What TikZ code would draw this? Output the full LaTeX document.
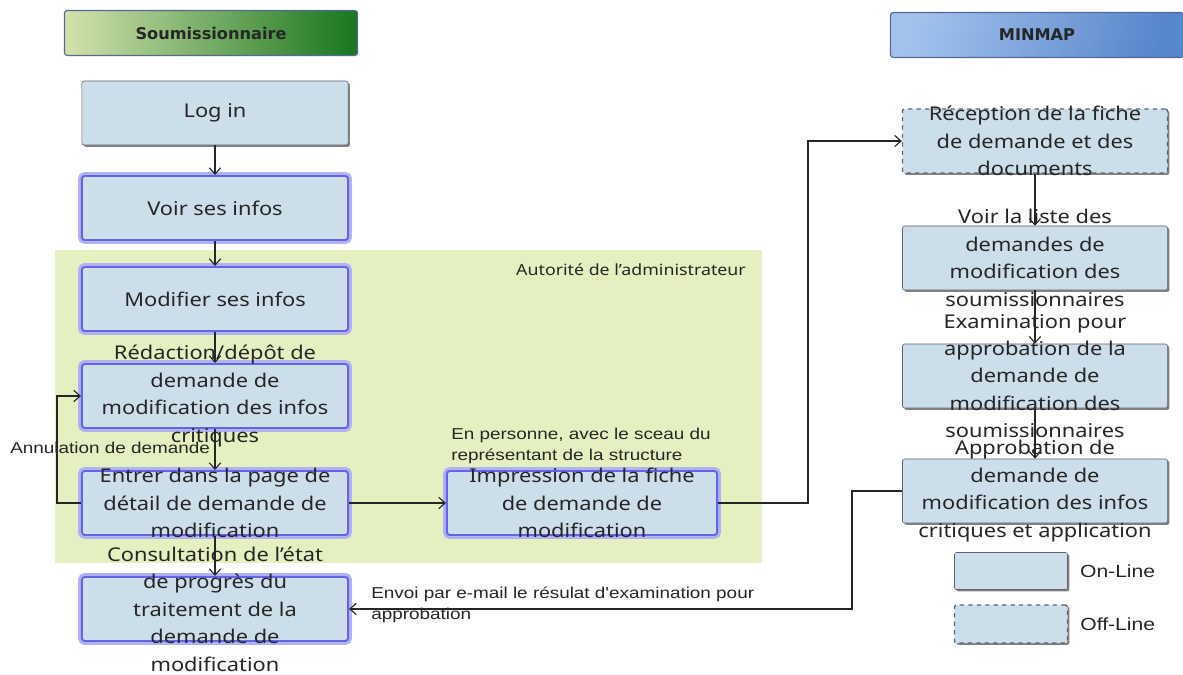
\documentclass[tikz,border=0pt]{standalone}
\usepackage{fontspec}
\setmainfont{Noto Sans}
\newfontfamily\boxfont[FakeStretch=1.15]{Noto Sans}
\newfontfamily\hdrfont{DejaVu Sans Bold}
\newfontfamily\notefont[FakeStretch=1.2]{Liberation Sans}
\usepackage{tikz}
\usetikzlibrary{shadows,calc,positioning,arrows.meta}

\definecolor{boxfill}{RGB}{205,222,235}
\definecolor{glowblue}{RGB}{100,100,235}
\definecolor{adminbg}{RGB}{229,240,192}
\definecolor{edgegray}{RGB}{95,100,110}
\definecolor{hdredge}{RGB}{85,105,150}
\definecolor{grnlight}{RGB}{212,226,172}
\definecolor{grnmid}{RGB}{158,190,92}
\definecolor{grndark}{RGB}{22,118,30}
\definecolor{bluelight}{RGB}{162,194,236}
\definecolor{bluedark}{RGB}{88,134,204}

\newcommand\boxtext{\boxfont\fontsize{13.5}{19.5}\selectfont}
\newcommand\notetext{\notefont\fontsize{11.2}{15}\selectfont}

\begin{document}
\begin{tikzpicture}[x=0.025cm, y=-0.025cm, >={Straight Barb[length=4.5pt, width=8pt]},
proc_on/.style={draw=edgegray, fill=boxfill, rounded corners=1.5pt, minimum width=6.65cm, minimum height=1.6cm,
  drop shadow={shadow xshift=1.3pt, shadow yshift=-1.3pt, fill=black!70, opacity=0.7}},
proc_off/.style={proc_on, dashed, line width=0.9pt},
proc_glow/.style={draw=glowblue, line width=1.4pt, fill=boxfill, rounded corners=2pt, minimum width=6.65cm, minimum height=1.6cm,
  preaction={draw=glowblue!50, line width=5.5pt}},
hdr_g/.style={draw=hdredge, line width=0.8pt, rounded corners=2pt, left color=grnlight, middle color=grnmid, right color=grndark,
  minimum width=7.325cm, minimum height=1.125cm, font=\hdrfont\fontsize{11.5}{13}\selectfont, text=black!85},
hdr_b/.style={draw=hdredge, line width=0.8pt, rounded corners=2pt, left color=bluelight, right color=bluedark, shading angle=75,
  minimum width=7.325cm, minimum height=1.125cm, font=\hdrfont\fontsize{11.5}{13}\selectfont, text=black!85},
txt/.style={align=center, font=\boxtext, text=black!85},
note/.style={align=left, font=\notetext, text=black!85, inner sep=0pt},
flow/.style={->, draw=black!85, line width=0.8pt}]

   \useasboundingbox (0,0) rectangle (1183,675);

   % zone of the administrator
   \fill[adminbg] (55,250) rectangle (762,563);
   \node[txt, font=\boxfont\fontsize{11}{13}\selectfont] (admin) at (631,270) {Autorité de l’administrateur};

   % headers
   \node[hdr_g] (soum) at (211,33) {Soumissionnaire};
   \node[hdr_b] (minmap) at (1037,35) {MINMAP};

   % soumissionnaire side
   \node[proc_on, label={[txt]center:Log in}] (login) at (215,113) {};
   \node[proc_glow, label={[txt]center:Voir ses infos}] (voir) at (215,208) {};
   \node[proc_glow, label={[txt]center:Modifier ses infos}] (modif) at (215,299) {};
   \node[proc_glow, label={[txt]center:Rédaction/dépôt de\\demande de\\modification des infos\\critiques}] (redac) at (215,396) {};
   \node[proc_glow, label={[txt]center:Entrer dans la page de\\détail de demande de\\modification}] (entrer) at (215,503) {};
   \node[proc_glow, label={[txt]center:Consultation de l’état\\de progrès du\\traitement de la\\demande de\\modification}] (consult) at (215,609) {};
   \node[proc_glow, minimum width=6.75cm, label={[txt]center:Impression de la fiche\\de demande de\\modification}] (impr) at (582,503) {};

   % minmap side
   \node[proc_off, minimum width=6.625cm, label={[txt]center:Réception de la fiche\\de demande et des\\documents}] (recep) at (1035,141) {};
   \node[proc_on, minimum width=6.625cm, label={[txt]center:Voir la liste des\\demandes de\\modification des\\soumissionnaires}] (liste) at (1035,258) {};
   \node[proc_on, minimum width=6.625cm, label={[txt]center:Examination pour\\approbation de la\\demande de\\modification des\\soumissionnaires}] (exam) at (1035,376) {};
   \node[proc_on, minimum width=6.625cm, label={[txt]center:Approbation de\\demande de\\modification des infos\\critiques et application}] (approb) at (1035,491) {};

   % legend
   \node[proc_on, minimum width=2.825cm, minimum height=0.925cm] (leg_on) at (1011,571) {};
   \node[note, font=\notefont\fontsize{12.5}{14}\selectfont, right=0.3cm of leg_on] (leg_on_t) {On-Line};
   \node[proc_off, minimum width=2.825cm, minimum height=0.95cm] (leg_off) at (1011,624) {};
   \node[note, font=\notefont\fontsize{12.5}{14}\selectfont, right=0.3cm of leg_off] (leg_off_t) {Off-Line};

   % bends
   \coordinate (bend_l) at (57,0);
   \coordinate (bend_r) at (808,0);
   \coordinate (bend_m) at (852,0);

   % connectors
   \draw[flow] (login) -- (voir);
   \draw[flow] (voir) -- (modif);
   \draw[flow] (modif) -- (redac);
   \draw[flow] (redac) -- (entrer);
   \draw[flow] (entrer) -- (consult);
   \draw[flow] (entrer.west) -- (entrer.west -| bend_l) |- (redac.west);
   \draw[flow] (entrer) -- (impr);
   \draw[flow] (impr.east) -- (impr.east -| bend_r) |- (recep.west);
   \draw[flow] (recep) -- (liste);
   \draw[flow] (liste) -- (exam);
   \draw[flow] (exam) -- (approb);
   \draw[flow] (approb.west) -- (approb.west -| bend_m) |- (consult.east);

   % labels of the connectors
   \node[note, anchor=west] (annul) at (10,448) {Annulation de demande};
   \node[note, anchor=north west] (perso) at (451,428) {En personne, avec le sceau du\\représentant de la structure};
   \node[note, anchor=north west] (envoi) at (371,587) {Envoi par e-mail le résulat d'examination pour\\approbation};

\end{tikzpicture}
\end{document}
